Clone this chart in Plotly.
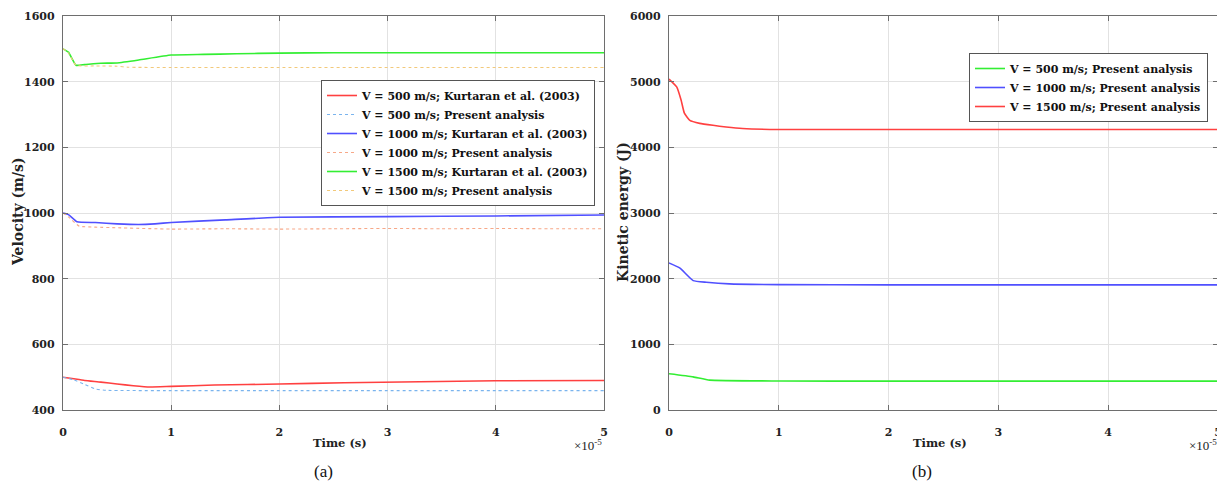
import plotly.graph_objects as go

# ---------------- Data (time in units of 1e-5 s) ----------------
# Panel (a): velocity (m/s)
t_500_k = [0, 0.1, 0.2, 0.35, 0.5, 0.65, 0.8, 1.0, 1.4, 2.0, 2.6, 3.3, 4, 5]
v_500_k = [500, 495, 490, 485, 479, 474, 470, 472, 476, 479, 483, 486, 489, 490]
t_500_p = [0, 0.1, 0.2, 0.3, 0.4, 1, 2, 3, 4, 5]
v_500_p = [500, 492, 478, 464, 460, 459, 459, 459, 459, 459]
t_1000_k = [0, 0.05, 0.13, 0.3, 0.5, 0.7, 0.85, 1.0, 1.5, 2.0, 3, 4, 5]
v_1000_k = [1000, 995, 973, 971, 967, 965, 967, 971, 979, 987, 989, 991, 994]
t_1000_p = [0, 0.05, 0.15, 0.3, 0.5, 1, 1.5, 2, 2.5, 3, 3.5, 4, 4.5, 5]
v_1000_p = [1000, 988, 960, 957, 955, 951, 952, 951, 952, 953, 952, 953, 952, 952]
t_1500_k = [0, 0.05, 0.12, 0.2, 0.35, 0.5, 0.7, 1.0, 1.3, 1.6, 2.0, 2.5, 3, 4, 5]
v_1500_k = [1500, 1490, 1450, 1452, 1456, 1457, 1466, 1481, 1483, 1485, 1487, 1488, 1488, 1488, 1488]
t_1500_p = [0, 0.05, 0.12, 0.3, 0.5, 0.6, 1, 2, 3, 4, 5]
v_1500_p = [1500, 1488, 1450, 1448, 1447, 1444, 1443, 1443, 1443, 1443, 1443]

# Panel (b): kinetic energy (J)
t_ke_500 = [0, 0.22, 0.37, 1, 2, 3, 4, 5]
ke_500 = [552, 505, 455, 442, 440, 440, 440, 440]
t_ke_1000 = [0, 0.1, 0.22, 0.34, 0.55, 1, 2, 3, 4, 5]
ke_1000 = [2240, 2160, 1970, 1945, 1920, 1910, 1905, 1905, 1905, 1905]
t_ke_1500 = [0, 0.07, 0.11, 0.14, 0.19, 0.28, 0.4, 0.52, 0.67, 1, 2, 3, 4, 5]
ke_1500 = [5040, 4920, 4720, 4520, 4410, 4365, 4335, 4310, 4287, 4272, 4272, 4272, 4272, 4272]

x_ticks = [0, 1, 2, 3, 4, 5]
y_ticks_a = [400, 600, 800, 1000, 1200, 1400, 1600]
y_ticks_b = [0, 1000, 2000, 3000, 4000, 5000, 6000]

# the page shows the figure offset by an 8px body margin
PAGE_W, PAGE_H, OFF = 1225, 490, 8
W, H = PAGE_W - OFF, PAGE_H - OFF

def px(x):
    return min(1.0, max(0.0, (x - OFF) / W))

def py(y):
    return min(1.0, max(0.0, 1 - (y - OFF) / H))

SERIF = "Liberation Serif"
WIDE = "DejaVu Serif"

RED = "#ff4040"
BLUE = "#5050ff"
GREEN = "#33ee33"
LBLUE = "#7ab4ee"
SALMON = "#f7a888"
YELLOW = "#f2c97a"

fig = go.Figure()

def add(x, y, name, color, dash, width, xa, ya, legend):
    fig.add_trace(go.Scatter(x=x, y=y, mode="lines", name=name,
                             line=dict(color=color, dash=dash, width=width, shape="spline", smoothing=0.4),
                             xaxis=xa, yaxis=ya, legend=legend))

add(t_500_k, v_500_k, "V = 500 m/s; Kurtaran et al. (2003)", RED, "solid", 1.6, "x", "y", "legend")
add(t_500_p, v_500_p, "V = 500 m/s; Present analysis", LBLUE, "dot", 1.1, "x", "y", "legend")
add(t_1000_k, v_1000_k, "V = 1000 m/s; Kurtaran et al. (2003)", BLUE, "solid", 1.6, "x", "y", "legend")
add(t_1000_p, v_1000_p, "V = 1000 m/s; Present analysis", SALMON, "dot", 1.1, "x", "y", "legend")
add(t_1500_k, v_1500_k, "V = 1500 m/s; Kurtaran et al. (2003)", GREEN, "solid", 1.6, "x", "y", "legend")
add(t_1500_p, v_1500_p, "V = 1500 m/s; Present analysis", YELLOW, "dot", 1.1, "x", "y", "legend")

add(t_ke_500, ke_500, "V = 500 m/s; Present analysis", GREEN, "solid", 1.6, "x2", "y2", "legend2")
add(t_ke_1000, ke_1000, "V = 1000 m/s; Present analysis", BLUE, "solid", 1.6, "x2", "y2", "legend2")
add(t_ke_1500, ke_1500, "V = 1500 m/s; Present analysis", RED, "solid", 1.6, "x2", "y2", "legend2")

AX = "#6e6e6e"
GRID = "#e2e2e2"
tickfont = dict(family=WIDE, size=11, color="#222", weight="bold")

def axis_common(standoff):
    return dict(showline=True, linecolor=AX, linewidth=1.3, mirror="ticks",
                ticks="inside", ticklen=5, tickcolor=AX, tickwidth=1,
                showgrid=True, gridcolor=GRID, gridwidth=1, zeroline=False,
                tickfont=tickfont, ticklabelstandoff=standoff, automargin=False)

y0, y1 = py(410), py(16)
legfont = dict(family=WIDE, size=11, color="#111", weight="bold")

fig.update_layout(
    width=W, height=H,
    margin=dict(l=0, r=0, t=0, b=0, pad=0, autoexpand=False),
    paper_bgcolor="white", plot_bgcolor="white",
    showlegend=True,
    xaxis=dict(domain=[px(63), px(604)], range=[0, 5], tickvals=x_ticks, anchor="y", **axis_common(12)),
    yaxis=dict(domain=[y0, y1], range=[400, 1600], tickvals=y_ticks_a, anchor="x", **axis_common(5)),
    xaxis2=dict(domain=[px(669), px(1218)], range=[0, 5], tickvals=x_ticks, anchor="y2", **axis_common(12)),
    yaxis2=dict(domain=[y0, y1], range=[0, 6000], tickvals=y_ticks_b, anchor="x2", **axis_common(5)),
    legend=dict(x=px(321), y=py(80), xanchor="left", yanchor="top",
                bgcolor="white", bordercolor="#555", borderwidth=1,
                font=legfont, itemwidth=30, tracegroupgap=0),
    legend2=dict(x=px(969), y=py(53), xanchor="left", yanchor="top",
                 bgcolor="white", bordercolor="#555", borderwidth=1,
                 font=legfont, itemwidth=30, tracegroupgap=0),
)

ylab = dict(family=WIDE, size=14, color="#222", weight="bold")
xlab = dict(family=WIDE, size=11.5, color="#222", weight="bold")
expf = dict(family=SERIF, size=13, color="#222")
ann = [
    dict(text="Velocity (m/s)", x=px(18), y=py(212), textangle=-90, font=ylab),
    dict(text="Kinetic energy (J)", x=px(623), y=py(212), textangle=-90, font=ylab),
    dict(text="Time (s)", x=px(340), y=py(443), font=xlab),
    dict(text="Time (s)", x=px(940), y=py(443), font=xlab),
    dict(text="×10<sup>-5</sup>", x=px(588), y=py(445), font=expf),
    dict(text="×10<sup>-5</sup>", x=px(1203), y=py(445), font=expf),
    dict(text="(a)", x=px(323), y=py(471), font=dict(family=SERIF, size=17, color="#111")),
    dict(text="(b)", x=px(922), y=py(471), font=dict(family=SERIF, size=17, color="#111")),
]
for a in ann:
    fig.add_annotation(xref="paper", yref="paper", showarrow=False, xanchor="center", yanchor="middle", **a)

fig.write_html("out.html")
